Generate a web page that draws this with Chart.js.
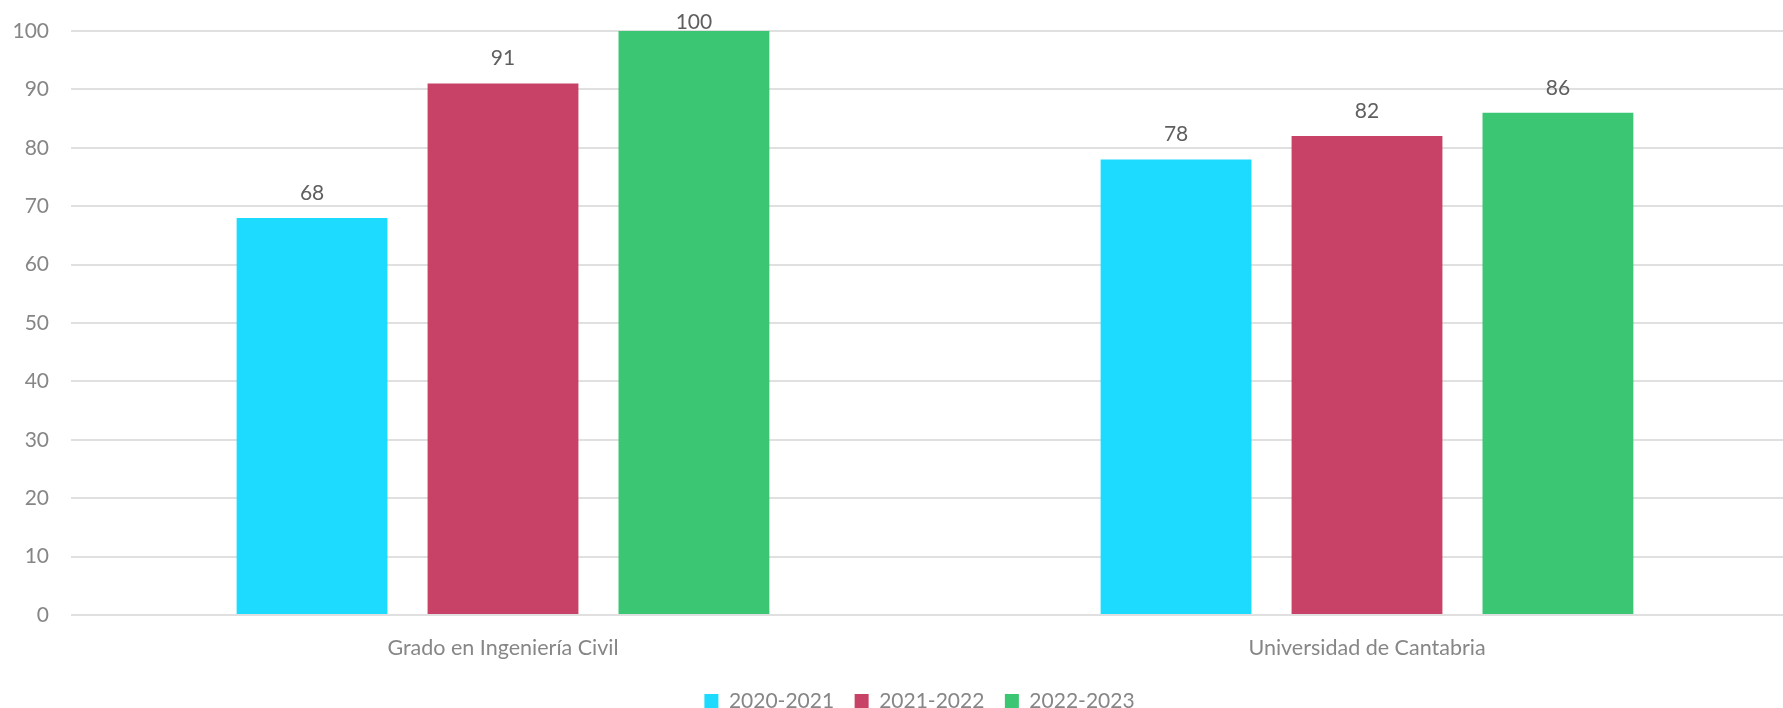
<!DOCTYPE html>
<html lang="es">
<head>
<meta charset="utf-8">
<title>Tasa por curso</title>
<script src="https://cdn.jsdelivr.net/npm/chart.js@4/dist/chart.umd.min.js"></script>
<style>
    html, body {
        margin: 0;
        padding: 0;
        background: #ffffff;
        overflow: hidden;
    }
    #canvasParent {
        width: 1800px;
        height: 708px;
    }
</style>
</head>
<body>
<div id="canvasParent"><canvas id="display" width="1800" height="708"></canvas></div>
<script>
    const categories = ["Grado en Ingeniería Civil", "Universidad de Cantabria"];
    const seriesNames = ["2020-2021", "2021-2022", "2022-2023"];
    const values2020 = [68, 78];
    const values2021 = [91, 82];
    const values2022 = [100, 86];
    const seriesColors = ["#1cdbfe", "#c84267", "#3bc673"];
    const yTicks = [0, 10, 20, 30, 40, 50, 60, 70, 80, 90, 100];

    const fontFamily = "Lato, 'Open Sans', sans-serif";
    const axisGray = "#868686";
    const labelGray = "#5f5f5f";

    // value above every bar, placed from the bar element itself;
    // a label that would leave the canvas is pulled down onto the top line
    let barValues = {
        id: "barValues",
        afterDatasetsDraw: function (chart) {
            const ctx = chart.ctx;
            const minY = chart.chartArea.top - 9;
            ctx.save();
            ctx.font = `21px ${fontFamily}`;
            ctx.fillStyle = labelGray;
            ctx.textAlign = "center";
            ctx.textBaseline = "middle";
            chart.data.datasets.forEach((ds, i) => {
                const meta = chart.getDatasetMeta(i);
                meta.data.forEach((bar, j) => {
                    ctx.fillText(String(ds.data[j]), bar.x, Math.max(bar.y - 25, minY));
                });
            });
            ctx.restore();
        }
    };

    // legend sits a little right of the canvas centre
    let legendNudge = {
        id: "legendNudge",
        afterLayout: function (chart) {
            const lg = chart.legend;
            if (lg) {
                lg.left += 20;
                lg.right += 20;
            }
        }
    };

    const datasets = [values2020, values2021, values2022].map((vals, i) => ({
        label: seriesNames[i],
        data: vals,
        backgroundColor: seriesColors[i],
        borderWidth: 0,
        categoryPercentage: 0.663,
        barPercentage: 0.79
    }));

    let chart = new Chart(document.getElementById("display"), {
        type: "bar",
        data: {
            labels: categories,
            datasets: datasets
        },
        options: {
            responsive: false,
            animation: false,
            layout: {
                padding: {top: 31, left: 0, right: 1, bottom: -13.5}
            },
            plugins: {
                tooltip: {enabled: false},
                legend: {
                    position: "bottom",
                    labels: {
                        boxWidth: 14,
                        boxHeight: 14,
                        padding: 20.5,
                        color: axisGray,
                        font: {family: fontFamily, size: 21}
                    }
                }
            },
            scales: {
                x: {
                    grid: {display: false, drawTicks: false},
                    border: {display: false},
                    ticks: {
                        color: axisGray,
                        padding: 20,
                        font: {family: fontFamily, size: 21.5}
                    },
                    afterFit: (scale) => {
                        scale.height = 55;
                    }
                },
                y: {
                    min: yTicks[0],
                    max: yTicks[yTicks.length - 1],
                    afterBuildTicks: (scale) => {
                        scale.ticks = yTicks.map(v => ({value: v}));
                    },
                    // invisible tick marks keep the labels clear of the grid
                    grid: {
                        color: "#e0e0e0",
                        lineWidth: 2,
                        drawTicks: true,
                        tickLength: 19,
                        tickColor: "rgba(0,0,0,0)"
                    },
                    border: {display: false},
                    ticks: {
                        color: axisGray,
                        padding: 3,
                        font: {family: fontFamily, size: 21}
                    },
                    afterFit: (scale) => {
                        scale.width = 71;
                    }
                }
            }
        },
        plugins: [barValues, legendNudge]
    });
</script>
</body>
</html>
